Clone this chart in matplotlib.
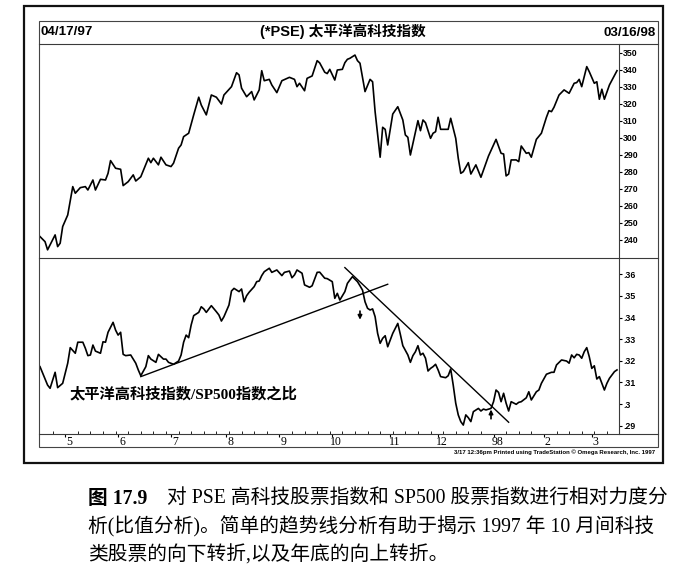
import matplotlib
matplotlib.use('Agg')
import matplotlib.pyplot as plt
from matplotlib.lines import Line2D
from matplotlib.patches import Rectangle
import matplotlib.transforms as mtransforms

plt.rcParams['font.family'] = ['Liberation Sans', 'Noto Sans CJK SC', 'DejaVu Sans']

W, H = 683, 579

# ---------------- data (x = trading-day index from 04/17/97) ----------------
pse_idx = [0, 2, 3, 5, 6, 7, 8, 9, 11, 13,
           14, 16, 18, 19, 21, 22, 24, 26, 27, 28,
           30, 32, 33, 35, 37, 38, 40, 43, 44, 45,
           47, 48, 50, 52, 53, 55, 56, 57, 59, 61,
           63, 64, 66, 68, 70, 72, 73, 76, 78, 79,
           80, 82, 84, 85, 87, 88, 89, 91, 92, 94,
           96, 99, 101, 102, 103, 105, 106, 108, 110, 111,
           113, 114, 115, 117, 118, 120, 121, 122, 123, 125,
           126, 127, 129, 131, 132, 133, 135, 136, 137, 138,
           140, 142, 144, 145, 146, 147, 150, 151, 152, 153,
           155, 156, 157, 158, 159, 162, 163, 165, 166, 167,
           168, 170, 171, 173, 175, 178, 181, 183, 184, 185,
           186, 187, 189, 190, 191, 193, 194, 195, 197, 199,
           201, 202, 203, 204, 206, 208, 210, 212, 213, 214,
           215, 217, 218, 220, 221, 222, 223, 224, 226, 229]
pse_val = [241.8, 238.8, 234.0, 239.8, 242.8, 235.9, 237.9, 247.7, 254.5, 271.2,
           267.3, 270.6, 271.2, 269.2, 275.1, 269.2, 275.5, 275.1, 279.0, 286.5,
           282.0, 281.4, 271.8, 274.1, 278.1, 274.5, 277.0, 287.9, 285.3, 287.9,
           284.0, 288.5, 284.0, 283.0, 285.0, 293.8, 295.7, 300.6, 302.6, 313.4,
           323.8, 319.2, 313.4, 325.1, 323.8, 319.8, 325.1, 330.0, 338.2, 336.9,
           329.1, 324.1, 327.1, 322.2, 328.1, 339.4, 333.5, 334.3, 331.0, 326.5,
           333.5, 335.5, 334.3, 330.0, 332.0, 327.6, 334.9, 336.3, 345.3, 344.0,
           338.5, 337.7, 340.2, 333.9, 339.8, 340.2, 344.1, 346.1, 346.7, 348.6,
           345.3, 343.8, 327.1, 334.3, 332.9, 315.3, 288.5, 306.1, 304.9, 295.7,
           313.9, 318.2, 310.4, 301.6, 300.2, 289.8, 310.0, 304.1, 310.4, 308.8,
           299.6, 302.6, 303.5, 312.0, 304.9, 304.9, 311.4, 299.6, 287.9, 279.0,
           280.0, 285.3, 278.6, 284.0, 276.7, 289.2, 299.0, 290.8, 290.4, 277.5,
           278.6, 286.9, 286.9, 285.9, 295.1, 290.8, 291.2, 288.5, 299.0, 302.6,
           312.0, 315.9, 315.3, 317.9, 325.1, 328.1, 326.1, 332.0, 332.4, 334.3,
           330.0, 341.8, 338.8, 332.0, 332.9, 322.6, 328.5, 322.6, 331.0, 339.4]

ratio_idx = [0, 3, 4, 6, 7, 9, 11, 12, 14, 15,
             17, 18, 19, 20, 21, 22, 24, 25, 26, 27,
             29, 30, 31, 32, 33, 34, 36, 38, 39, 40,
             42, 43, 44, 46, 47, 49, 50, 51, 53, 55,
             56, 57, 58, 59, 60, 61, 63, 64, 65, 66,
             68, 70, 71, 72, 73, 75, 76, 77, 79, 80,
             81, 82, 83, 85, 86, 87, 88, 89, 91, 92,
             94, 96, 97, 99, 100, 101, 102, 104, 105, 107,
             108, 110, 111, 113, 114, 116, 117, 118, 119, 121,
             122, 123, 124, 126, 127, 128, 129, 130, 131, 132,
             133, 134, 135, 136, 137, 138, 139, 140, 142, 143,
             144, 146, 147, 148, 149, 150, 151, 152, 153, 154,
             155, 156, 157, 158, 159, 161, 162, 163, 164, 165,
             166, 167, 168, 169, 170, 171, 172, 174, 175, 176,
             177, 179, 180, 181, 182, 183, 184, 185, 186, 187,
             189, 190, 191, 193, 194, 195, 197, 198, 199, 201,
             203, 204, 205, 207, 209, 210, 211, 212, 213, 214,
             215, 216, 217, 218, 219, 220, 221, 222, 224, 225,
             226, 228, 229]
ratio_val = [.3173, .3088, .3073, .3147, .3076, .3096, .3189, .3261, .3235, .3286,
             .3286, .3258, .3224, .3227, .3273, .3245, .3235, .3288, .3286, .3332,
             .3378, .3342, .3319, .3332, .3230, .3224, .3227, .3189, .3158, .3131,
             .3173, .3224, .3208, .3193, .3230, .3208, .3208, .3193, .3184, .3199,
             .3227, .3286, .3319, .3307, .3366, .3409, .3424, .3450, .3440, .3424,
             .3455, .3427, .3412, .3384, .3404, .3458, .3523, .3535, .3520, .3532,
             .3473, .3501, .3517, .3543, .3566, .3569, .3594, .3612, .3628, .3609,
             .3620, .3594, .3609, .3615, .3584, .3597, .3620, .3605, .3551, .3540,
             .3547, .3609, .3610, .3582, .3580, .3566, .3489, .3512, .3481, .3520,
             .3558, .3574, .3589, .3566, .3547, .3527, .3473, .3443, .3435, .3440,
             .3404, .3327, .3281, .3304, .3316, .3265, .3296, .3327, .3373, .3323,
             .3270, .3227, .3193, .3224, .3242, .3270, .3227, .3235, .3212, .3153,
             .3165, .3173, .3184, .3158, .3127, .3122, .3131, .3162, .3088, .3004,
             .2950, .2919, .2903, .2950, .2937, .2919, .2965, .2980, .2968, .2977,
             .2973, .2980, .3011, .3065, .3054, .3011, .3050, .3004, .2968, .3011,
             .2999, .3008, .3011, .3029, .3057, .3019, .3057, .3065, .3096, .3138,
             .3147, .3147, .3181, .3204, .3199, .3189, .3227, .3214, .3230, .3227,
             .3212, .3242, .3261, .3219, .3165, .3177, .3116, .3127, .3065, .3096,
             .3119, .3150, .3158]

month_idx = [10, 31, 52, 74, 95, 116, 139, 158, 180, 200, 219]
month_labels = ['5', '6', '7', '8', '9', '10', '11', '12', '98', '2', '3']

pse_ticks = [240, 250, 260, 270, 280, 290, 300, 310, 320, 330, 340, 350]
ratio_ticks = [.29, .30, .31, .32, .33, .34, .35, .36]
ratio_tick_labels = ['.29', '.3', '.31', '.32', '.33', '.34', '.35', '.36']

trend_up_idx = [40, 138]
trend_up_val = [.3127, .3554]
trend_dn_idx = [121, 186]
trend_dn_val = [.3631, .2916]

arrow_down_idx, arrow_down_from, arrow_down_to = 127, .3430, .3390
arrow_up_idx, arrow_up_from, arrow_up_to = 179, .2932, .2975

header_left = '04/17/97'
header_right = '03/16/98'
header_title = '(*PSE) 太平洋高科技指数'
ratio_label = '太平洋高科技指数/SP500指数之比'
footer = '3/17 12:36pm Printed using TradeStation © Omega Research, Inc. 1997'
caption_head = '图 17.9'
caption_lines = ['对 PSE 高科技股票指数和 SP500 股票指数进行相对力度分',
                 '析(比值分析)。简单的趋势线分析有助于揭示 1997 年 10 月间科技',
                 '类股票的向下转折,以及年底的向上转折。']

# ---------------- layout helpers (pixel -> figure fraction) ----------------
fig = plt.figure(figsize=(W / 100, H / 100), dpi=100)
fig.patch.set_facecolor('white')


def rect(x0, y0, x1, y1):
    return [x0 / W, 1 - y1 / H, (x1 - x0) / W, (y1 - y0) / H]


def fline(x0, y0, x1, y1, lw=0.8, color='#3a3a3a'):
    fig.add_artist(Line2D([x0 / W, x1 / W], [1 - y0 / H, 1 - y1 / H],
                          transform=fig.transFigure, lw=lw, color=color))


def ftext(x, y, s, **kw):
    fig.text(x / W, 1 - y / H, s, **kw)


XL, XR = 39.5, 619.0
ax1 = fig.add_axes(rect(XL, 43.5, XR, 258))
ax2 = fig.add_axes(rect(XL, 258, XR, 434))

for ax in (ax1, ax2):
    ax.set_xlim(-0.2, 229.8)
    ax.patch.set_alpha(0)
    for sp in ax.spines.values():
        sp.set_visible(False)
    ax.yaxis.tick_right()

# top panel
ax1.plot(pse_idx, pse_val, color='black', lw=1.2, solid_joinstyle='round')
ax1.set_ylim(229.2, 355.4)
ax1.set_yticks(pse_ticks)
ax1.set_yticklabels([str(t) for t in pse_ticks])
ax1.set_xticks([])
ax1.tick_params(axis='y', direction='out', length=2.5, width=0.8, pad=0.6,
                labelsize=6.3, colors='black')

# bottom panel
ax2.plot(ratio_idx, ratio_val, color='black', lw=1.2, solid_joinstyle='round')
ax2.plot(trend_up_idx, trend_up_val, color='black', lw=1.0)
ax2.plot(trend_dn_idx, trend_dn_val, color='black', lw=1.0)
ax2.set_ylim(.28617, .36754)
ax2.set_yticks(ratio_ticks)
ax2.set_yticklabels(ratio_tick_labels)
ax2.tick_params(axis='y', direction='out', length=2.5, width=0.8, pad=0.6,
                labelsize=6.3, colors='black')
ax2.set_xticks(month_idx)
ax2.set_xticklabels(month_labels)
ax2.set_xticks(list(range(5, 230, 5)), minor=True)
ax2.tick_params(axis='x', which='major', direction='out', length=2.5, width=0.8,
                pad=0.0, labelsize=8.5)
ax2.tick_params(axis='x', which='minor', direction='in', length=2, width=0.6)
offset = mtransforms.ScaledTranslation(4 / 100, 1 / 100, fig.dpi_scale_trans)
for lab in ax2.get_xticklabels():
    lab.set_fontfamily(['Liberation Serif', 'DejaVu Serif'])
    lab.set_transform(lab.get_transform() + offset)
for lab in ax1.get_yticklabels() + ax2.get_yticklabels():
    lab.set_fontweight('bold')

ax2.annotate('', xy=(arrow_down_idx, arrow_down_to), xytext=(arrow_down_idx, arrow_down_from),
             arrowprops=dict(arrowstyle='-|>', color='black', lw=1.2, mutation_scale=6,
                             shrinkA=0, shrinkB=0))
ax2.annotate('', xy=(arrow_up_idx, arrow_up_to), xytext=(arrow_up_idx, arrow_up_from),
             arrowprops=dict(arrowstyle='-|>', color='black', lw=1.2, mutation_scale=6,
                             shrinkA=0, shrinkB=0))

# ---------------- frames and rules ----------------
fig.add_artist(Rectangle((23.5 / W, 1 - 463 / H), (663 - 23.5) / W, (463 - 5.7) / H,
                         transform=fig.transFigure, fill=False, lw=1.6, ec='#111111'))
fig.add_artist(Rectangle((39.3 / W, 1 - 446.7 / H), (657.5 - 39.3) / W, (446.7 - 21) / H,
                         transform=fig.transFigure, fill=False, lw=0.8, ec='#444444'))
fline(39.3, 43.5, 657.5, 43.5)
fline(39.3, 258, 657.5, 258)
fline(39.3, 434, 657.5, 434)
fline(XR, 43.5, XR, 434)

# ---------------- texts ----------------
ftext(40.5, 32, header_left, ha='left', va='center', fontsize=9.6, fontweight='bold')
ftext(656, 33, header_right, ha='right', va='center', fontsize=9.6, fontweight='bold')
ftext(343, 31, header_title, ha='center', va='center', fontsize=10.5, fontweight='bold',
      family=['Liberation Sans', 'Noto Sans CJK SC'])
ftext(70, 394.5, ratio_label, ha='left', va='center', fontsize=11, fontweight='bold',
      family=['Liberation Serif', 'Noto Sans CJK SC'])
ftext(655, 452, footer, ha='right', va='center', fontsize=4.3, fontweight='bold')

cap_fam = ['Liberation Serif', 'Noto Sans CJK SC']
ftext(88, 499, caption_head, ha='left', va='center', fontsize=14.2, fontweight='bold',
      family=cap_fam)
ftext(167, 499, caption_lines[0], ha='left', va='center', fontsize=14.2, family=cap_fam)
ftext(88, 527, caption_lines[1], ha='left', va='center', fontsize=14.2, family=cap_fam)
ftext(88, 555, caption_lines[2], ha='left', va='center', fontsize=14.2, family=cap_fam)

fig.savefig('out.png', dpi=100)
